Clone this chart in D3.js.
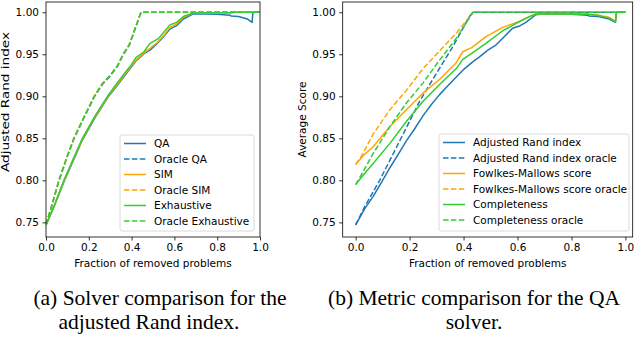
<!DOCTYPE html>
<html>
<head>
<meta charset="utf-8">
<script src="https://cdn.jsdelivr.net/npm/d3@7/dist/d3.min.js"></script>
<style>
  body { margin: 0; background: #fff; }
  svg { display: block; }
</style>
</head>
<body>
<div id="fig"></div>
<script>
// ---- data ----
const xTicks = [0, 0.2, 0.4, 0.6, 0.8, 1.0];
const yTicks = [0.75, 0.80, 0.85, 0.90, 0.95, 1.00];

// (a) solver comparison, adjusted Rand index
const qaSolver = [[0,0.747],[0.04,0.770],[0.085,0.799],[0.13,0.825],[0.17,0.848],[0.23,0.875],[0.29,0.899],[0.33,0.912],[0.372,0.926],[0.42,0.942],[0.46,0.951],[0.486,0.955],[0.52,0.963],[0.55,0.971],[0.579,0.980],[0.61,0.984],[0.642,0.992],[0.688,0.998],[0.75,0.998],[0.80,0.9975],[0.86,0.9965],[0.865,0.9955],[0.90,0.995],[0.94,0.992],[0.963,0.988],[0.967,1.0],[1.0,1.0]];
const simSolver = [[0,0.747],[0.04,0.771],[0.085,0.800],[0.13,0.826],[0.17,0.849],[0.23,0.876],[0.29,0.900],[0.33,0.913],[0.372,0.927],[0.42,0.943],[0.46,0.952],[0.486,0.957],[0.52,0.964],[0.55,0.972],[0.579,0.982],[0.61,0.986],[0.642,0.994],[0.688,0.999],[0.75,0.9995],[0.87,0.999],[0.88,1.0],[1.0,1.0]];
const exhSolver = [[0,0.747],[0.04,0.771],[0.085,0.801],[0.13,0.827],[0.17,0.850],[0.23,0.877],[0.29,0.901],[0.33,0.915],[0.372,0.929],[0.40,0.938],[0.42,0.946],[0.458,0.953],[0.486,0.963],[0.527,0.969],[0.579,0.985],[0.61,0.988],[0.642,0.995],[0.688,0.999],[0.75,0.9995],[0.86,0.9995],[0.87,1.0],[1.0,1.0]];
const oracleQa = [[0,0.747],[0.03,0.772],[0.06,0.799],[0.095,0.825],[0.13,0.849],[0.175,0.873],[0.225,0.899],[0.263,0.914],[0.30,0.924],[0.335,0.936],[0.36,0.949],[0.39,0.961],[0.415,0.979],[0.444,1.0],[1.0,1.0]];
const oracleSim = [[0,0.747],[0.03,0.773],[0.06,0.800],[0.095,0.826],[0.13,0.850],[0.175,0.874],[0.225,0.900],[0.263,0.915],[0.30,0.925],[0.335,0.937],[0.36,0.950],[0.39,0.962],[0.415,0.980],[0.444,1.0],[1.0,1.0]];
const oracleExh = [[0,0.747],[0.03,0.773],[0.06,0.800],[0.095,0.826],[0.13,0.850],[0.175,0.874],[0.225,0.900],[0.263,0.915],[0.30,0.925],[0.335,0.937],[0.36,0.950],[0.39,0.962],[0.415,0.980],[0.444,1.0],[1.0,1.0]];

// (b) metric comparison, QA solver
const qaAri = [[0,0.747],[0.035,0.767],[0.065,0.781],[0.1,0.800],[0.127,0.815],[0.16,0.832],[0.188,0.847],[0.22,0.862],[0.25,0.877],[0.28,0.890],[0.311,0.902],[0.34,0.912],[0.373,0.923],[0.404,0.933],[0.434,0.941],[0.459,0.947],[0.49,0.955],[0.52,0.961],[0.545,0.969],[0.582,0.981],[0.61,0.984],[0.631,0.988],[0.668,0.997],[0.69,0.998],[0.75,0.998],[0.80,0.9975],[0.86,0.9965],[0.865,0.9955],[0.90,0.995],[0.94,0.992],[0.963,0.988],[0.967,1.0],[1.0,1.0]];
const qaFm = [[0,0.819],[0.03,0.830],[0.065,0.840],[0.127,0.864],[0.188,0.884],[0.25,0.904],[0.311,0.920],[0.373,0.940],[0.397,0.953],[0.43,0.958],[0.483,0.971],[0.545,0.982],[0.606,0.989],[0.668,0.998],[0.75,0.9985],[0.86,0.998],[0.9,0.9965],[0.94,0.994],[0.963,0.9895],[0.967,1.0],[1.0,1.0]];
const qaCompl = [[0,0.795],[0.03,0.807],[0.065,0.820],[0.127,0.844],[0.188,0.870],[0.25,0.894],[0.311,0.914],[0.373,0.933],[0.397,0.944],[0.43,0.951],[0.483,0.963],[0.545,0.978],[0.58,0.984],[0.631,0.993],[0.668,0.998],[0.75,0.998],[0.86,0.9975],[0.9,0.996],[0.94,0.993],[0.963,0.9885],[0.967,1.0],[1.0,1.0]];
const oracleAri = [[0,0.747],[0.034,0.769],[0.089,0.800],[0.135,0.829],[0.176,0.855],[0.237,0.894],[0.299,0.927],[0.36,0.959],[0.422,0.995],[0.435,1.0],[1.0,1.0]];
const oracleFm = [[0,0.819],[0.02,0.828],[0.065,0.855],[0.127,0.884],[0.188,0.907],[0.25,0.933],[0.311,0.954],[0.373,0.975],[0.435,1.0],[1.0,1.0]];
const oracleCompl = [[0,0.795],[0.02,0.806],[0.065,0.832],[0.127,0.864],[0.188,0.892],[0.25,0.916],[0.311,0.943],[0.373,0.969],[0.435,1.0],[1.0,1.0]];

const labelsA = ['QA','Oracle QA','SIM','Oracle SIM','Exhaustive','Oracle Exhaustive'];
const labelsB = ['Adjusted Rand index','Adjusted Rand index oracle','Fowlkes-Mallows score','Fowlkes-Mallows score oracle','Completeness','Completeness oracle'];
const colours = ['#1f77b4','#1f77b4','#ffa500','#ffa500','#32cd32','#32cd32'];
const dashed = [false,true,false,true,false,true];

const W=640, H=341;
const font='DejaVu Sans';

const svg=d3.select('#fig').append('svg')
  .attr('width',W).attr('height',H);

function painel(box, xdom, series, labels, ylab, leg, id){
  const x=d3.scaleLinear().domain(xdom).range([box.l, box.r]);
  const y=d3.scaleLinear().domain([0.7326,1.0122]).range([box.b, box.t]);
  const g=svg.append('g');

  g.append('clipPath').attr('id',id).append('rect')
    .attr('x',box.l).attr('y',box.t).attr('width',box.r-box.l).attr('height',box.b-box.t);

  const linha=d3.line().x(d=>x(d[0])).y(d=>y(d[1]));
  const curvas=g.append('g').attr('clip-path','url(#'+id+')');
  series.forEach((s,i)=>{
    curvas.append('path').attr('d',linha(s))
      .attr('fill','none').attr('stroke',colours[i]).attr('stroke-width',1.5)
      .attr('stroke-linejoin','round')
      .attr('stroke-dasharray', dashed[i] ? '5.5,2.4' : null);
  });

  // eixos
  const ax=g.append('g').attr('transform','translate(0,'+box.b+')')
    .call(d3.axisBottom(x).tickValues(xTicks).tickFormat(d3.format('.1f')).tickSize(3.5).tickPadding(3.5));
  const ay=g.append('g').attr('transform','translate('+box.l+',0)')
    .call(d3.axisLeft(y).tickValues(yTicks).tickFormat(d3.format('.2f')).tickSize(3.5).tickPadding(3.5));
  [ax,ay].forEach(a=>{
    a.select('.domain').remove();
    a.selectAll('line').attr('stroke','#000').attr('stroke-width',0.8);
    a.selectAll('text').attr('font-family',font).attr('font-size',10.5).attr('fill','#000');
  });
  g.append('rect').attr('x',box.l).attr('y',box.t).attr('width',box.r-box.l).attr('height',box.b-box.t)
    .attr('fill','none').attr('stroke','#000').attr('stroke-width',0.8);

  g.append('text').attr('x',(box.l+box.r)/2).attr('y',box.b+30)
    .attr('text-anchor','middle').attr('font-family',font).attr('font-size',10.5)
    .text('Fraction of removed problems');
  const yt=g.append('text').attr('transform','translate('+ylab.x+','+ylab.y+') rotate(-90)')
    .attr('text-anchor','middle').attr('font-family',font).attr('font-size',10.5)
    .text(ylab.text);
  if(ylab.len) yt.attr('textLength',ylab.len).attr('lengthAdjust','spacingAndGlyphs');

  // legenda
  const lg=g.append('g');
  lg.append('rect').attr('x',leg.x).attr('y',leg.y).attr('width',leg.w).attr('height',leg.h)
    .attr('rx',2).attr('fill','#fff').attr('fill-opacity',0.8)
    .attr('stroke','#d0d0d0').attr('stroke-width',0.8);
  labels.forEach((t,i)=>{
    const yy=leg.y+8.5+i*15.5;
    lg.append('line').attr('x1',leg.x+4).attr('x2',leg.x+26).attr('y1',yy).attr('y2',yy)
      .attr('stroke',colours[i]).attr('stroke-width',1.5)
      .attr('stroke-dasharray', dashed[i] ? '5.5,2.4' : null);
    lg.append('text').attr('x',leg.x+34).attr('y',yy).attr('dy','0.35em')
      .attr('font-family',font).attr('font-size',10.5).text(t);
  });
}

painel({l:46,r:260,t:2,b:237},[0,1],
  [qaSolver,oracleQa,simSolver,oracleSim,exhSolver,oracleExh],
  labelsA,{x:9,y:102,len:140,text:'Adjusted Rand index'},{x:120,y:135,w:134,h:96},'clipA');

painel({l:342.7,r:632.7,t:2,b:237},[-0.048,1.027],
  [qaAri,oracleAri,qaFm,oracleFm,qaCompl,oracleCompl],
  labelsB,{x:306,y:119.5,text:'Average Score'},{x:439,y:134,w:190,h:97},'clipB');

// legendas das subfiguras
const cap=svg.append('g').attr('font-family','Liberation Serif').attr('font-size',21.5).attr('text-anchor','middle');
cap.append('text').attr('x',160).attr('y',305).text('(a) Solver comparison for the');
cap.append('text').attr('x',149).attr('y',329).text('adjusted Rand index.');
cap.append('text').attr('x',474).attr('y',305).text('(b) Metric comparison for the QA');
cap.append('text').attr('x',474).attr('y',329).text('solver.');
</script>
</body>
</html>
